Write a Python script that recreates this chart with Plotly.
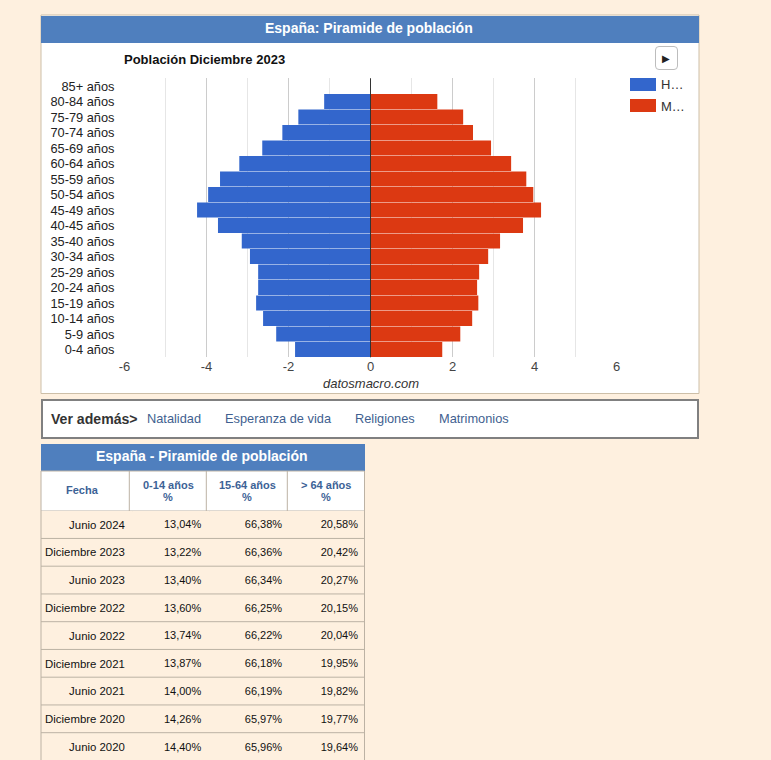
import plotly.graph_objects as go

# la figura es algo mas alta que la ventana: asi la ultima fila cabe sin barra de scroll en la tabla
W, H = 771, 766

# datos de la piramide (de arriba a abajo)
grupos = ["85+ años", "80-84 años", "75-79 años", "70-74 años", "65-69 años", "60-64 años",
          "55-59 años", "50-54 años", "45-49 años", "40-45 años", "35-40 años", "30-34 años",
          "25-29 años", "20-24 años", "15-19 años", "10-14 años", "5-9 años", "0-4 años"]
hombres = [0, -1.13, -1.76, -2.15, -2.64, -3.20, -3.67, -3.96, -4.23, -3.72, -3.14, -2.94,
           -2.74, -2.74, -2.79, -2.62, -2.30, -1.84]
mujeres = [0, 1.63, 2.26, 2.50, 2.94, 3.43, 3.80, 3.97, 4.16, 3.72, 3.16, 2.87,
           2.65, 2.60, 2.63, 2.48, 2.19, 1.75]
x_ticks = [-6, -4, -2, 0, 2, 4, 6]
x_labels = ["-6", "-4", "-2", "0", "2", "4", "6"]

# tabla (espacio duro en las fechas para que no se partan)
titulos = ["0-14 años", "15-64 años", "> 64 años"]
fechas = ["Junio\u00a02024", "Diciembre\u00a02023", "Junio\u00a02023", "Diciembre\u00a02022", "Junio\u00a02022",
          "Diciembre\u00a02021", "Junio\u00a02021", "Diciembre\u00a02020", "Junio\u00a02020"]
col_0_14 = ["13,04%", "13,22%", "13,40%", "13,60%", "13,74%", "13,87%", "14,00%", "14,26%", "14,40%"]
col_15_64 = ["66,38%", "66,36%", "66,34%", "66,25%", "66,22%", "66,18%", "66,19%", "65,97%", "65,96%"]
col_64 = ["20,58%", "20,42%", "20,27%", "20,15%", "20,04%", "19,95%", "19,82%", "19,77%", "19,64%"]
enlaces = [("Natalidad", 147), ("Esperanza de vida", 225), ("Religiones", 355), ("Matrimonios", 439)]

CREMA = "#fef0df"
AZUL_CAB = "#4f7fbe"
BORDE = "#bcb2a4"
FUENTE = "Liberation Sans, Arial, sans-serif"


def px(x):
    return x / W


def py(y):
    return 1 - y / H


def rect(x0, y0, x1, y1, fill, line=None, width=1):
    return dict(type="rect", xref="paper", yref="paper", x0=px(x0), x1=px(x1), y0=py(y0), y1=py(y1),
                fillcolor=fill, line=dict(color=line or fill, width=width if line else 0), layer="below")


def linea(x0, y0, x1, y1, color=BORDE):
    return dict(type="line", xref="paper", yref="paper", x0=px(x0), x1=px(x1), y0=py(y0), y1=py(y1),
                line=dict(color=color, width=1))


def texto(t, x, y, size=14, color="#222222", anchor="left"):
    # las anotaciones llevan unos 2px de relleno a la izquierda
    if anchor == "left":
        x -= 2
    return dict(text=t, x=px(x), y=py(y), xref="paper", yref="paper", xanchor=anchor, yanchor="middle",
                showarrow=False, font=dict(family=FUENTE, size=size, color=color))


fig = go.Figure()
fig.add_trace(go.Bar(y=grupos, x=hombres, orientation="h", marker=dict(color="#3366cc", line_width=0), name="Hombres"))
fig.add_trace(go.Bar(y=grupos, x=mujeres, orientation="h", marker=dict(color="#dc3912", line_width=0), name="Mujeres"))

fig.add_trace(go.Table(
    domain=dict(x=[px(41), px(366.5)], y=[0, py(511)]),
    columnwidth=[92, 76.5, 81, 76],
    header=dict(values=["", "", "", ""], height=1, fill_color=CREMA, line=dict(color=CREMA, width=0)),
    cells=dict(values=[fechas, col_0_14, col_15_64, col_64], height=27.8, align="right",
               fill_color=CREMA, line=dict(color=CREMA, width=0),
               font=dict(family=FUENTE, size=[11.4, 11, 11, 11], color="#111111")),
))

shapes = [
    rect(41, 15, 699, 393.5, "white", "#cdbfa8"),
    rect(41, 16, 699, 43, AZUL_CAB),
    rect(42, 400, 698, 438, "white", "#808080", 2),
    rect(41, 444, 365, 471, AZUL_CAB),
    rect(41, 471, 364.5, 511, "white", BORDE),
    rect(630, 78, 656, 91, "#3366cc"),
    rect(630, 99, 656, 112, "#dc3912"),
    # eje del cero por encima de las barras
    dict(type="line", xref="x", yref="y domain", x0=0, x1=0, y0=0, y1=1, line=dict(color="#333333", width=1)),
    linea(41, 511, 41, H),
    linea(364.5, 511, 364.5, H),
]
for x in [129.3, 206.3, 287.3]:
    shapes.append(linea(x, 471, x, 511))
for i in range(1, len(fechas)):
    y = 510.7 + 27.75 * i
    shapes.append(linea(41, y, 364.5, y))
shapes.append(dict(type="path", xref="paper", yref="paper", xsizemode="pixel", ysizemode="pixel",
                   xanchor=0, yanchor=1, path="M659,-46.5 H674 Q677.5,-46.5 677.5,-50 V-66 Q677.5,-69.5 674,-69.5 H659 Q655.5,-69.5 655.5,-66 V-50 Q655.5,-46.5 659,-46.5 Z",
                   line=dict(color="#bdbdbd", width=1), fillcolor="rgba(0,0,0,0)"))

anots = [
    texto("<b>España: Piramide de población</b>", 368.5, 28.5, 14, "white", "center"),
    texto("<b>Población Diciembre 2023</b>", 124, 60, 13, "#111111"),
    texto("▶", 666, 58, 10, "#222222", "center"),
    texto("H…", 661, 85, 13, "#333333"),
    texto("M…", 661, 106, 13, "#333333"),
    texto("<i>datosmacro.com</i>", 371, 384, 13, "#333333", "center"),
    texto("<b>Ver además></b>", 51, 419, 14.1, "#333333"),
    texto("<b>España - Piramide de población</b>", 201.5, 456, 14, "white", "center"),
    texto("<b>Fecha</b>", 82, 490, 11, "#3c6296", "center"),
]
for nombre, x in enlaces:
    anots.append(texto(nombre, x, 418.5, 12.8, "#3f5f90"))
for t, x in zip(titulos, [168, 247, 326]):
    anots.append(texto("<b>" + t + "</b>", x, 485, 11, "#3c6296", "center"))
    anots.append(texto("<b>%</b>", x, 496.5, 11, "#3c6296", "center"))

fig.update_layout(
    width=W, height=H,
    margin=dict(l=0, r=0, t=0, b=0, autoexpand=False),
    paper_bgcolor=CREMA, plot_bgcolor="rgba(0,0,0,0)",
    barmode="relative", bargap=0.04, showlegend=False,
    font=dict(family=FUENTE, size=13, color="#222222"),
    shapes=shapes, annotations=anots,
    xaxis=dict(domain=[px(124.5), px(616.5)], range=[-6, 6], tickmode="array", tickvals=x_ticks, ticktext=x_labels,
               showgrid=True, gridcolor="#cccccc", gridwidth=1, zeroline=False, ticks="", showline=False,
               tickfont=dict(size=13, color="#444444"),
               minor=dict(tickmode="linear", tick0=-6, dtick=1, showgrid=True, gridcolor="#e6e6e6", gridwidth=1, ticks="")),
    yaxis=dict(domain=[py(357.3), py(78.3)], type="category", categoryorder="array", categoryarray=grupos,
               range=[17.5, -0.5], showgrid=False, zeroline=False, ticks="", ticklabelstandoff=9, dtick=1,
               tickfont=dict(size=12.8, color="#222222")),
)

fig.write_html("out.html", config={"displayModeBar": False},
               post_script="document.body.style.margin='0';document.documentElement.style.overflow='hidden';")
